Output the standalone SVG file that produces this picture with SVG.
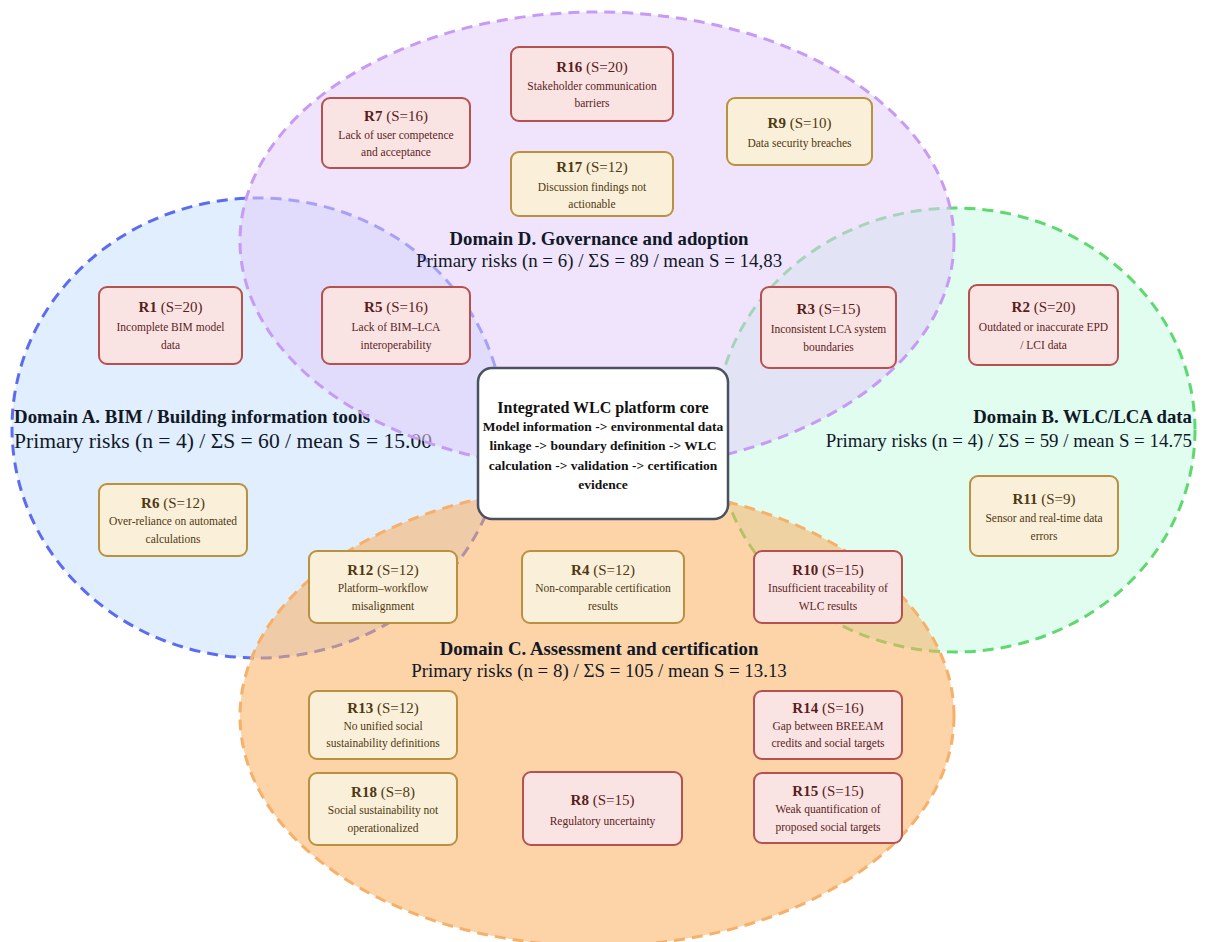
<svg xmlns="http://www.w3.org/2000/svg" width="1207" height="942" viewBox="0 0 1207 942">
<style>
.dom{stroke-width:3;stroke-dasharray:11 7;}
.box{stroke-width:2;}
.red{fill:#fae4e3;stroke:#b5514f;}
.yel{fill:#faf0d9;stroke:#b99140;}
.t{font-family:"Liberation Serif","DejaVu Serif",serif;text-anchor:middle;}
.tr{fill:#5a1e1e;}
.ty{fill:#4f3812;}
.ti{font-size:15px;}
.ti .b{font-weight:bold;}
.ds{font-size:11.5px;}
.lab{font-family:"Liberation Serif","DejaVu Serif",serif;fill:#111827;}
.lb{font-weight:bold;font-size:18.8px;}
.ls{font-size:18.9px;}
.core{font-family:"Liberation Serif","DejaVu Serif",serif;font-weight:bold;fill:#111;text-anchor:middle;}
</style>
<rect width="1207" height="942" fill="#ffffff"/>
<g id="domainA">
<ellipse class="dom" cx="258" cy="428" rx="246" ry="230" fill="#c7e0fd" fill-opacity="0.55" stroke="#5b6cf2"/>
</g>
<g id="domainB">
<ellipse class="dom" cx="955" cy="430" rx="240" ry="222" fill="#c7fbe4" fill-opacity="0.55" stroke="#5fd96e"/>
</g>
<g id="labelA">
<text class="lab lb" x="14" y="423" textLength="356" lengthAdjust="spacingAndGlyphs">Domain A. BIM / Building information tools</text>
<text class="lab" x="14" y="448" font-size="21.5" textLength="418" lengthAdjust="spacingAndGlyphs">Primary risks (n = 4) / ΣS = 60 / mean S = 15.00</text>
</g>
<g id="labelB">
<text class="lab lb" x="1192" y="423" text-anchor="end">Domain B. WLC/LCA data</text>
<text class="lab ls" x="1192" y="447" text-anchor="end">Primary risks (n = 4) / ΣS = 59 / mean S = 14.75</text>
</g>
<g id="domainD">
<ellipse class="dom" cx="597" cy="241" rx="357" ry="229" fill="#e4cefa" fill-opacity="0.55" stroke="#c79bf5"/>
<text class="lab lb" x="599" y="245" text-anchor="middle">Domain D. Governance and adoption</text>
<text class="lab ls" x="599" y="267" text-anchor="middle">Primary risks (n = 6) / ΣS = 89 / mean S = 14,83</text>
</g>
<g id="domainC">
<ellipse class="dom" cx="597" cy="716" rx="357" ry="230" fill="#fbaf61" fill-opacity="0.55" stroke="#f7b06a"/>
<text class="lab lb" x="599" y="655" text-anchor="middle">Domain C. Assessment and certification</text>
<text class="lab ls" x="599" y="677" text-anchor="middle">Primary risks (n = 8) / ΣS = 105 / mean S = 13.13</text>
</g>
<g id="connectors"></g>
<g id="R16"><rect class="box red" x="511" y="47" width="162" height="74" rx="8"/>
<text class="t tr ti" x="592" y="72"><tspan class="b">R16</tspan> (S=20)</text>
<text class="t tr ds" x="592" y="90">Stakeholder communication</text><text class="t tr ds" x="592" y="107">barriers</text></g>
<g id="R7"><rect class="box red" x="322" y="98" width="148" height="70" rx="8"/>
<text class="t tr ti" x="396" y="121"><tspan class="b">R7</tspan> (S=16)</text>
<text class="t tr ds" x="396" y="139">Lack of user competence</text><text class="t tr ds" x="396" y="156">and acceptance</text></g>
<g id="R9"><rect class="box yel" x="727" y="98" width="145" height="67" rx="8"/>
<text class="t ty ti" x="799.5" y="128"><tspan class="b">R9</tspan> (S=10)</text>
<text class="t ty ds" x="799.5" y="147">Data security breaches</text></g>
<g id="R17"><rect class="box yel" x="511" y="152" width="162" height="64" rx="8"/>
<text class="t ty ti" x="592" y="172"><tspan class="b">R17</tspan> (S=12)</text>
<text class="t ty ds" x="592" y="191">Discussion findings not</text><text class="t ty ds" x="592" y="208">actionable</text></g>
<g id="R1"><rect class="box red" x="99" y="287" width="143" height="77" rx="8"/>
<text class="t tr ti" x="170.5" y="312"><tspan class="b">R1</tspan> (S=20)</text>
<text class="t tr ds" x="170.5" y="331">Incomplete BIM model</text><text class="t tr ds" x="170.5" y="349">data</text></g>
<g id="R5"><rect class="box red" x="322" y="287" width="148" height="77" rx="8"/>
<text class="t tr ti" x="396" y="312"><tspan class="b">R5</tspan> (S=16)</text>
<text class="t tr ds" x="396" y="331">Lack of BIM–LCA</text><text class="t tr ds" x="396" y="349">interoperability</text></g>
<g id="R3"><rect class="box red" x="761" y="287" width="135" height="81" rx="8"/>
<text class="t tr ti" x="828.5" y="314"><tspan class="b">R3</tspan> (S=15)</text>
<text class="t tr ds" x="828.5" y="333">Inconsistent LCA system</text><text class="t tr ds" x="828.5" y="351">boundaries</text></g>
<g id="R2"><rect class="box red" x="969" y="285" width="149" height="80" rx="8"/>
<text class="t tr ti" x="1043.5" y="312"><tspan class="b">R2</tspan> (S=20)</text>
<text class="t tr ds" x="1043.5" y="331">Outdated or inaccurate EPD</text><text class="t tr ds" x="1043.5" y="349">/ LCI data</text></g>
<g id="R6"><rect class="box yel" x="99" y="484" width="148" height="72" rx="8"/>
<text class="t ty ti" x="173" y="508"><tspan class="b">R6</tspan> (S=12)</text>
<text class="t ty ds" x="173" y="525">Over-reliance on automated</text><text class="t ty ds" x="173" y="543">calculations</text></g>
<g id="R11"><rect class="box yel" x="970" y="476" width="148" height="80" rx="8"/>
<text class="t ty ti" x="1044" y="504"><tspan class="b">R11</tspan> (S=9)</text>
<text class="t ty ds" x="1044" y="522">Sensor and real-time data</text><text class="t ty ds" x="1044" y="540">errors</text></g>
<g id="R12"><rect class="box yel" x="309" y="551" width="148" height="72" rx="8"/>
<text class="t ty ti" x="383" y="575"><tspan class="b">R12</tspan> (S=12)</text>
<text class="t ty ds" x="383" y="592">Platform–workflow</text><text class="t ty ds" x="383" y="610">misalignment</text></g>
<g id="R4"><rect class="box yel" x="522" y="551" width="162" height="72" rx="8"/>
<text class="t ty ti" x="603" y="575"><tspan class="b">R4</tspan> (S=12)</text>
<text class="t ty ds" x="603" y="592">Non-comparable certification</text><text class="t ty ds" x="603" y="610">results</text></g>
<g id="R10"><rect class="box red" x="754" y="551" width="148" height="72" rx="8"/>
<text class="t tr ti" x="828" y="575"><tspan class="b">R10</tspan> (S=15)</text>
<text class="t tr ds" x="828" y="592">Insufficient traceability of</text><text class="t tr ds" x="828" y="610">WLC results</text></g>
<g id="R13"><rect class="box yel" x="309" y="691" width="148" height="68" rx="8"/>
<text class="t ty ti" x="383" y="713"><tspan class="b">R13</tspan> (S=12)</text>
<text class="t ty ds" x="383" y="730">No unified social</text><text class="t ty ds" x="383" y="747">sustainability definitions</text></g>
<g id="R14"><rect class="box red" x="754" y="691" width="148" height="68" rx="8"/>
<text class="t tr ti" x="828" y="713"><tspan class="b">R14</tspan> (S=16)</text>
<text class="t tr ds" x="828" y="730">Gap between BREEAM</text><text class="t tr ds" x="828" y="747">credits and social targets</text></g>
<g id="R18"><rect class="box yel" x="309" y="773" width="148" height="72" rx="8"/>
<text class="t ty ti" x="383" y="797"><tspan class="b">R18</tspan> (S=8)</text>
<text class="t ty ds" x="383" y="814">Social sustainability not</text><text class="t ty ds" x="383" y="832">operationalized</text></g>
<g id="R8"><rect class="box red" x="523" y="772" width="159" height="73" rx="8"/>
<text class="t tr ti" x="602.5" y="805"><tspan class="b">R8</tspan> (S=15)</text>
<text class="t tr ds" x="602.5" y="825">Regulatory uncertainty</text></g>
<g id="R15"><rect class="box red" x="754" y="773" width="148" height="70" rx="8"/>
<text class="t tr ti" x="828" y="796"><tspan class="b">R15</tspan> (S=15)</text>
<text class="t tr ds" x="828" y="813">Weak quantification of</text><text class="t tr ds" x="828" y="831">proposed social targets</text></g>
<g id="core"><rect x="478" y="368" width="250" height="151" rx="14" fill="#ffffff" stroke="#4a5261" stroke-width="2.5"/>
<text class="core" x="603" y="413" font-size="16">Integrated WLC platform core</text>
<text class="core" x="603" y="431" font-size="13.5">Model information -&gt; environmental data</text>
<text class="core" x="603" y="450" font-size="13.5">linkage -&gt; boundary definition -&gt; WLC</text>
<text class="core" x="603" y="470" font-size="13.5">calculation -&gt; validation -&gt; certification</text>
<text class="core" x="603" y="489" font-size="13.5">evidence</text></g>
</svg>
